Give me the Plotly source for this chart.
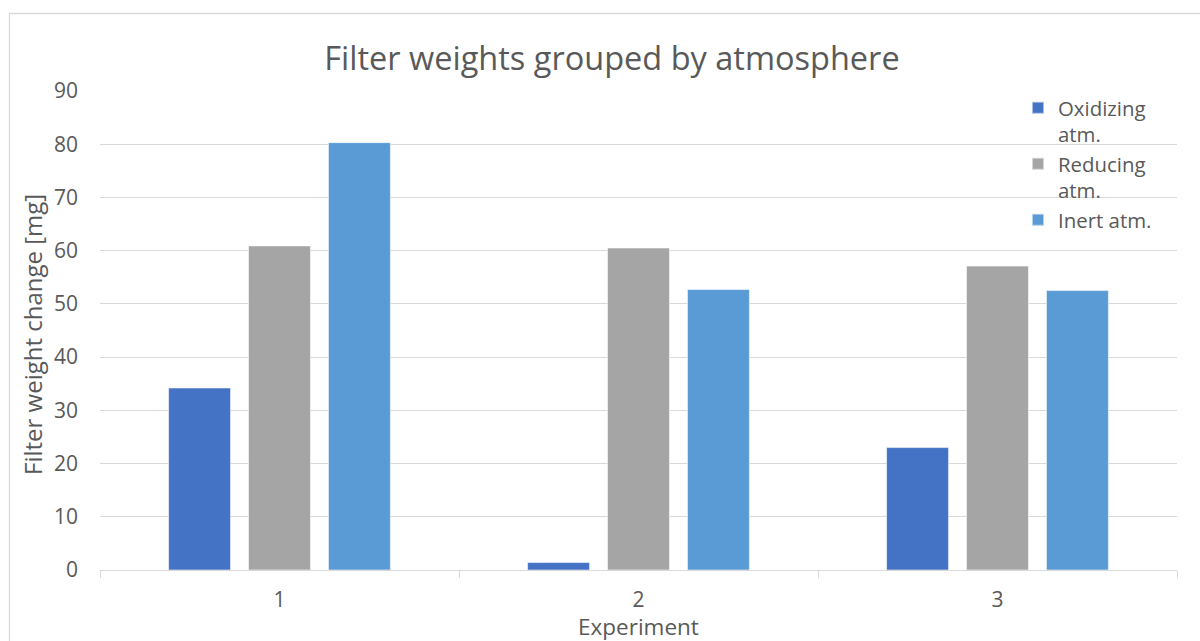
import plotly.graph_objects as go

# Filter weight change per experiment, grouped by furnace atmosphere
experiments = ["1", "2", "3"]
oxidizing = [34.2, 1.4, 23.0]
reducing = [60.9, 60.5, 57.1]
inert = [80.3, 52.7, 52.5]

series_names = ["Oxidizing<br>atm.", "Reducing<br>atm.", "Inert atm."]
series_colors = ["#4472C4", "#A5A5A5", "#5B9BD5"]
y_ticks = [0, 10, 20, 30, 40, 50, 60, 70, 80, 90]

TEXT = "#595959"
GRID = "#D9D9D9"
FONT = "Open Sans"

fig = go.Figure()
for name, vals, col in zip(series_names, [oxidizing, reducing, inert], series_colors):
    fig.add_trace(go.Bar(
        x=experiments, y=vals, name=name,
        marker=dict(color=col, line=dict(color="rgba(255,255,255,0.55)", width=1)),
    ))

W, H = 1200, 641
L, R, T, B = 100, 23, 91, 71
pw, ph = W - L - R, H - T - B

def px_x(x):
    return (x - L) / pw

def px_y(y):
    return (H - B - y) / ph

fig.update_layout(
    width=W, height=H,
    margin=dict(l=L, r=R, t=T, b=B),
    paper_bgcolor="white", plot_bgcolor="white",
    font=dict(family=FONT, color=TEXT, size=20),
    barmode="group", bargap=0.332, bargroupgap=0.225,
    title=dict(
        text="Filter weights grouped by atmosphere",
        x=612 / W, xref="container", xanchor="center",
        y=1 - 59 / H, yref="container", yanchor="middle",
        font=dict(size=32.5, color=TEXT, family=FONT),
    ),
    legend=dict(
        x=px_x(1018), y=px_y(88), xanchor="left", yanchor="top",
        bgcolor="rgba(0,0,0,0)", valign="top",
        font=dict(size=20.4, color=TEXT, family=FONT),
        itemsizing="constant",
    ),
    xaxis=dict(
        type="category", showgrid=False,
        showline=True, linecolor=GRID, linewidth=1.3,
        ticks="outside", tickson="boundaries", ticklen=7, tickcolor=GRID,
        tickfont=dict(size=21, color=TEXT),
        ticklabelstandoff=11,
    ),
    yaxis=dict(
        range=[0, 90], tickvals=y_ticks,
        showgrid=True, gridcolor=GRID, gridwidth=1.3,
        zeroline=False, showline=False, ticks="",
        tickfont=dict(size=21, color=TEXT),
        ticklabelstandoff=21,
    ),
    annotations=[
        dict(text="Experiment", xref="paper", yref="paper",
             x=0.5, y=px_y(626), xanchor="center", yanchor="middle",
             showarrow=False, font=dict(size=22.5, color=TEXT)),
        dict(text="Filter weight change [mg]", xref="paper", yref="paper",
             x=px_x(32), y=px_y(335), xanchor="center", yanchor="middle",
             textangle=-90, showarrow=False, font=dict(size=24, color=TEXT)),
    ],
    shapes=[
        dict(type="rect", xref="paper", yref="paper",
             x0=px_x(9.5), x1=px_x(1210), y0=px_y(700), y1=px_y(13.5),
             line=dict(color=GRID, width=1.3), fillcolor="rgba(0,0,0,0)",
             layer="below"),
    ],
)

fig.write_html("out.html")
